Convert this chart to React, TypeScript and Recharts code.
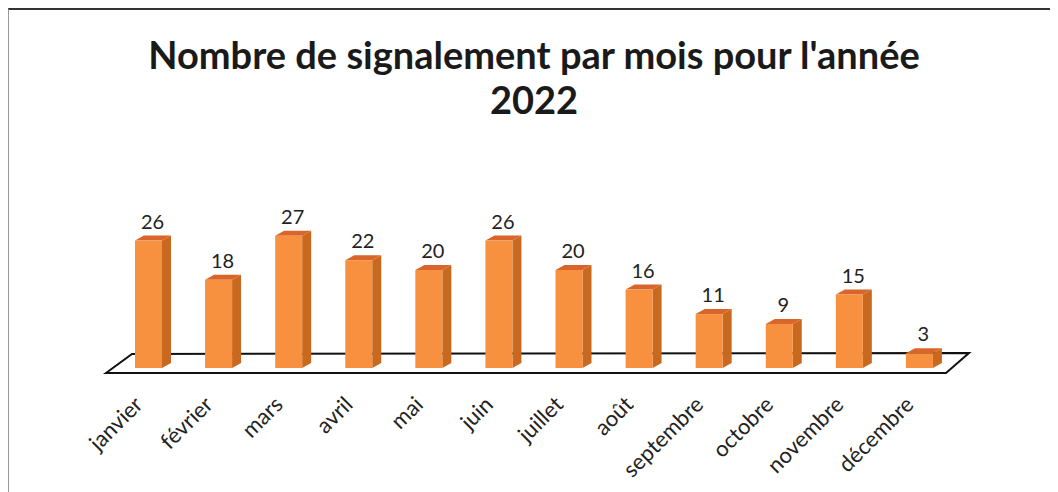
import { BarChart, Bar, XAxis, YAxis, LabelList, ReferenceArea } from 'recharts';

const months = [
  'janvier', 'février', 'mars', 'avril', 'mai', 'juin',
  'juillet', 'août', 'septembre', 'octobre', 'novembre', 'décembre',
];
const counts = [26, 18, 27, 22, 20, 26, 20, 16, 11, 9, 15, 3];

const data = months.map((month, i) => ({ month, count: counts[i] }));

const FONT = "Lato, 'Open Sans', sans-serif";
const DX = 9;
const DY = 5;

// 3D-looking column: front face, right side and top
const Bar3D = (props: any) => {
  const { x, y, width, height } = props;
  if (height == null || width == null) return null;
  const r = x + width;
  const b = y + height;
  return (
    <g>
      <polygon
        points={`${r},${y} ${r + DX},${y - DY} ${r + DX},${b - DY} ${r},${b}`}
        fill="#C9691F"
      />
      <polygon
        points={`${x},${y} ${x + DX},${y - DY} ${r + DX},${y - DY} ${r},${y}`}
        fill="#D9652A"
      />
      <rect x={x} y={y} width={width} height={height} fill="#F7913F" />
    </g>
  );
};

// the floor parallelogram under the columns
const Floor = (props: any) => {
  const { x, y, width, height } = props;
  const L = x;
  const R = x + width;
  const B = y + height;
  const pts = `${L - 7},${B + 5} ${L + 19},${B - 14} ${R + 15},${B - 15} ${R - 8},${B + 5}`;
  return <polygon points={pts} fill="none" stroke="#111" strokeWidth={2} />;
};

const MonthTick = (props: any) => {
  const { x, y, payload } = props;
  const tx = x - 4;
  const ty = y + 38;
  return (
    <text
      x={tx}
      y={ty}
      textAnchor="end"
      transform={`rotate(-45, ${tx}, ${ty})`}
      fontFamily={FONT}
      fontSize={22}
      fill="#222"
    >
      {payload.value}
    </text>
  );
};

const ValueLabel = (props: any) => {
  const { x, y, width, value } = props;
  return (
    <text
      x={x + width / 2 + 4}
      y={y - 12}
      textAnchor="middle"
      fontFamily={FONT}
      fontSize={20}
      fill="#222"
    >
      {value}
    </text>
  );
};

export default function App() {
  return (
    <div
      style={{
        position: 'relative',
        width: 1050,
        height: 484,
        borderTop: '2px solid #333',
        borderLeft: '1px solid #999',
        background: '#fff',
        boxSizing: 'border-box',
      }}
    >
      <div
        style={{
          position: 'absolute',
          top: 22,
          left: 0,
          width: 1050,
          textAlign: 'center',
          fontFamily: FONT,
          fontWeight: 700,
          fontSize: 38,
          lineHeight: '45px',
          color: '#1a1a1a',
        }}
      >
        Nombre de signalement par mois pour l'année
        <br />
        2022
      </div>
      <BarChart
        width={1050}
        height={482}
        data={data}
        margin={{ top: 211, right: 105, left: 104, bottom: 0 }}
        barSize={27}
      >
        <YAxis hide domain={[0, 30]} />
        <XAxis
          dataKey="month"
          axisLine={false}
          tickLine={false}
          tickSize={0}
          tickMargin={0}
          height={124}
          interval={0}
          tick={<MonthTick />}
        />
        <ReferenceArea y1={0} y2={30} shape={<Floor />} />
        <Bar dataKey="count" shape={<Bar3D />} isAnimationActive={false}>
          <LabelList dataKey="count" content={<ValueLabel />} />
        </Bar>
      </BarChart>
    </div>
  );
}
